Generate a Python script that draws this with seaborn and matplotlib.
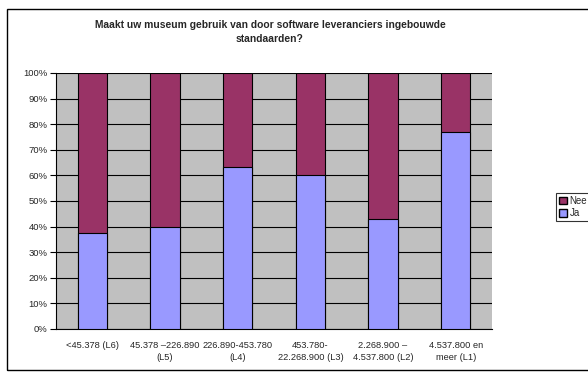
import numpy as np
import pandas as pd
import matplotlib
matplotlib.use("Agg")
import matplotlib.pyplot as plt
import seaborn as sns
from matplotlib.patches import Rectangle, Patch

# data (percent)
categories = ["<45.378 (L6)", "45.378 \u2013226.890\n(L5)", "226.890-453.780\n(L4)",
              "453.780-\n22.268.900 (L3)", "2.268.900 \u2013\n4.537.800 (L2)", "4.537.800 en\nmeer (L1)"]
ja = [37.5, 40.0, 63.3, 60.0, 42.9, 76.9]
nee = [100 - v for v in ja]

title = "Maakt uw museum gebruik van door software leveranciers ingebouwde\nstandaarden?"
col_ja = "#9999FF"
col_nee = "#993366"

sns.set_style("white")
plt.rcParams["font.family"] = ["Liberation Sans", "DejaVu Sans"]

df = pd.DataFrame({"cat": categories, "ja": ja, "totaal": [j + n for j, n in zip(ja, nee)]})

fig = plt.figure(figsize=(5.88, 3.72), dpi=100)
W, H = 588, 372
ax = fig.add_axes([56 / W, 1 - 329 / H, (492 - 56) / W, (329 - 73) / H])
ax.set_facecolor("#C0C0C0")

# stacked: full bar (Nee) then Ja on top of it
sns.barplot(data=df, x="cat", y="totaal", color=col_nee, width=0.4, saturation=1,
            edgecolor="black", linewidth=0.8, ax=ax, zorder=3)
sns.barplot(data=df, x="cat", y="ja", color=col_ja, width=0.4, saturation=1,
            edgecolor="black", linewidth=0.8, ax=ax, zorder=4)

ax.set_ylim(0, 100)
ax.set_xlim(-0.5, len(categories) - 0.5)
ax.set_yticks(np.arange(0, 101, 10))
ax.set_yticklabels([f"{v}%" for v in range(0, 101, 10)], fontsize=6.8)
ax.yaxis.grid(True, color="black", linewidth=0.8, zorder=1)
ax.set_axisbelow(True)
ax.set_xlabel("")
ax.set_ylabel("")

# labels centered, tick marks at category borders
ax.set_xticks(range(len(categories)))
ax.set_xticklabels(categories, fontsize=6.7, linespacing=1.35)
ax.tick_params(axis="x", which="major", length=0, pad=9)
ax.set_xticks(np.arange(-0.5, len(categories), 1), minor=True)
ax.tick_params(axis="x", which="minor", length=4, color="black", direction="out")
ax.tick_params(axis="y", length=4, color="black", direction="out", left=True, pad=2)

for s in ["top", "right"]:
    ax.spines[s].set_visible(False)
for s in ["left", "bottom"]:
    ax.spines[s].set_color("black")
    ax.spines[s].set_linewidth(0.8)

fig.text(270 / W, 1 - 32.5 / H, title, ha="center", va="center",
         fontsize=7.4, fontweight="bold", linespacing=1.5)

handles = [Patch(facecolor=col_nee, edgecolor="black", label="Nee"),
           Patch(facecolor=col_ja, edgecolor="black", label="Ja")]
leg = fig.legend(handles=handles, loc="upper left", bbox_to_anchor=(556 / W, 1 - 193 / H),
                 fontsize=7, frameon=True, fancybox=False, edgecolor="black",
                 handlelength=0.8, handleheight=0.8, handletextpad=0.3,
                 borderpad=0.3, labelspacing=0.25, borderaxespad=0)
leg.get_frame().set_linewidth(0.8)

# outer chart border
fig.patches.append(Rectangle((7 / W, 2 / H), 600 / W, (369 - 8) / H, transform=fig.transFigure,
                             fill=False, edgecolor="black", linewidth=1.0))

fig.savefig("out.png", dpi=100)
